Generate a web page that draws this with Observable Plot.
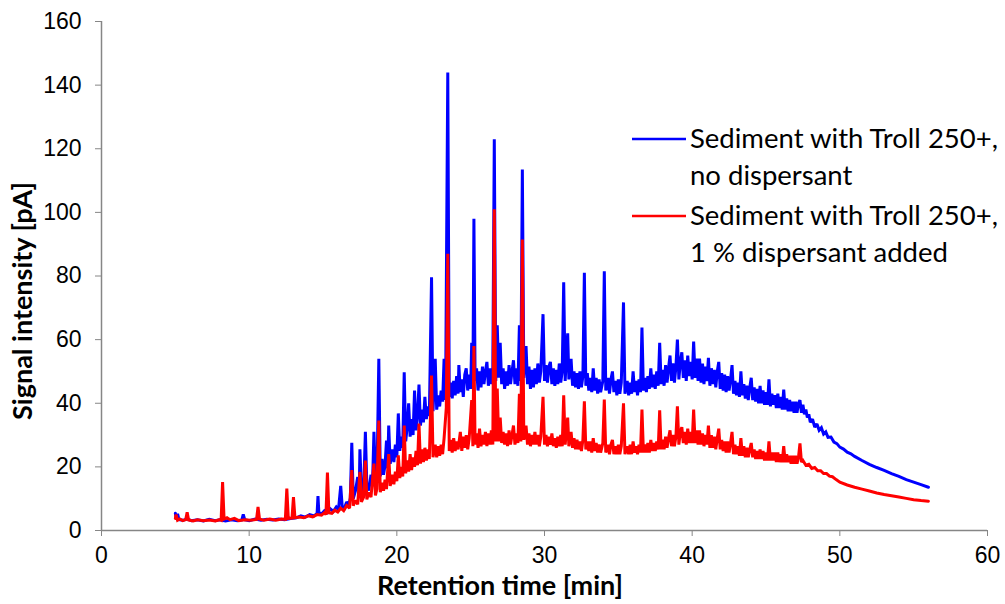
<!DOCTYPE html>
<html>
<head>
<meta charset="utf-8">
<script src="https://cdn.jsdelivr.net/npm/d3@7"></script>
<script src="https://cdn.jsdelivr.net/npm/@observablehq/plot@0.6"></script>
<style>
  html, body { margin: 0; padding: 0; background: #fff; }
  #chart { width: 1005px; height: 604px; }
</style>
</head>
<body>
<div id="chart"></div>
<script>
// GC-FID chromatograms: [retention time (min), signal (pA)]
const noDispersant = [
  [5.0,5.4],[5.05,4.0],[5.15,5.2],[5.25,3.4],[5.5,3.2],[5.8,3.6],[6.1,3.1],[6.5,3.4],[6.9,3.0],[7.3,3.5],
  [7.7,3.1],[8.0,3.4],[8.4,3.0],[8.8,3.4],[9.2,3.1],[9.5,3.3],[9.6,5.1],[9.7,3.4],[10.0,3.1],[10.4,3.6],
  [10.8,3.2],[11.2,3.5],[11.6,3.3],[12.0,3.6],[12.4,3.4],[12.8,3.8],[13.2,4.0],[13.5,4.6],[13.8,4.2],[14.1,5.0],
  [14.4,4.6],[14.6,5.4],[14.66,10.8],[14.72,5.6],[14.9,5.2],[15.1,6.2],[15.3,5.6],[15.5,6.8],[15.7,6.0],[15.9,7.4],
  [16.05,6.6],[16.2,14.0],[16.3,7.6],[16.45,7.0],[16.6,9.0],[16.75,8.0],[16.85,10.2],[16.95,27.6],[17.05,10.0],[17.2,12.5],
  [17.35,16.8],[17.45,11.5],[17.5,25.5],[17.6,13.0],[17.75,11.8],[17.87,31.0],[17.97,14.0],[18.1,12.6],[18.25,17.5],[18.35,14.0],
  [18.45,31.0],[18.55,16.5],[18.65,15.0],[18.78,54.0],[18.88,17.0],[19.0,22.5],[19.1,17.5],[19.2,20.5],[19.3,28.3],[19.38,19.5],
  [19.45,33.0],[19.55,21.0],[19.7,25.5],[19.8,21.5],[19.9,27.0],[20.0,23.0],[20.1,36.8],[20.2,25.0],[20.3,29.5],[20.4,26.0],
  [20.5,49.7],[20.6,28.0],[20.7,32.5],[20.8,40.0],[20.9,29.5],[21.0,35.0],[21.1,30.0],[21.2,44.0],[21.3,31.5],[21.4,36.0],
  [21.5,45.9],[21.6,33.0],[21.7,38.0],[21.8,34.0],[21.9,42.0],[22.0,35.0],[22.1,39.0],[22.2,36.0],[22.35,79.6],[22.45,37.5],
  [22.6,54.0],[22.7,38.0],[22.8,42.5],[22.9,39.0],[23.0,44.0],[23.1,40.5],[23.2,54.0],[23.3,41.0],[23.45,144.0],[23.55,42.0],
  [23.65,46.5],[23.75,41.5],[23.85,47.0],[23.95,42.5],[24.05,48.5],[24.15,43.0],[24.2,52.0],[24.3,43.5],[24.4,47.5],[24.5,42.0],
  [24.6,49.0],[24.7,51.0],[24.8,44.0],[24.9,49.0],[25.0,44.5],[25.07,59.0],[25.15,46.0],[25.22,98.0],[25.3,47.0],[25.4,51.0],
  [25.5,44.0],[25.6,50.0],[25.7,45.0],[25.8,51.5],[25.9,46.0],[26.0,50.0],[26.1,53.0],[26.2,45.5],[26.3,51.0],[26.4,46.0],
  [26.5,50.5],[26.6,123.0],[26.7,47.0],[26.8,64.5],[26.9,48.0],[27.0,59.0],[27.1,46.0],[27.2,51.0],[27.3,44.5],[27.4,50.0],
  [27.5,45.5],[27.6,52.0],[27.7,46.0],[27.8,50.0],[27.9,53.5],[28.0,46.0],[28.1,51.0],[28.2,45.5],[28.3,64.5],[28.4,47.0],
  [28.5,113.5],[28.6,48.0],[28.75,58.0],[28.85,46.0],[28.95,51.5],[29.05,44.5],[29.15,50.5],[29.25,45.0],[29.35,51.0],[29.45,46.0],
  [29.55,52.5],[29.65,46.5],[29.75,50.0],[29.9,68.0],[30.0,47.0],[30.1,52.0],[30.2,46.5],[30.3,51.5],[30.4,53.0],[30.5,46.0],
  [30.6,51.0],[30.7,45.5],[30.8,50.5],[30.9,46.0],[31.0,52.5],[31.1,46.5],[31.2,50.0],[31.3,78.0],[31.4,47.0],[31.57,62.0],
  [31.65,47.5],[31.8,54.0],[31.9,45.5],[32.0,50.0],[32.1,45.0],[32.2,49.5],[32.3,44.5],[32.4,50.0],[32.5,45.0],[32.6,48.5],
  [32.7,81.0],[32.8,45.5],[32.9,49.5],[33.0,44.0],[33.1,48.0],[33.2,43.5],[33.3,51.0],[33.4,44.0],[33.5,48.0],[33.6,43.0],
  [33.7,47.5],[33.8,43.5],[33.95,47.0],[34.05,81.5],[34.15,44.0],[34.3,48.0],[34.4,43.0],[34.5,47.5],[34.6,50.0],[34.7,43.5],
  [34.8,47.0],[34.9,42.5],[35.0,47.5],[35.1,43.0],[35.2,46.5],[35.35,71.7],[35.45,43.0],[35.6,47.0],[35.7,42.5],[35.8,46.5],
  [35.9,43.0],[36.0,50.0],[36.1,43.5],[36.2,47.0],[36.3,42.5],[36.4,47.5],[36.5,43.5],[36.6,63.8],[36.7,44.0],[36.8,48.0],
  [36.9,43.5],[37.0,48.5],[37.1,44.5],[37.2,51.0],[37.3,45.0],[37.4,49.0],[37.5,44.5],[37.6,50.0],[37.7,45.5],[37.8,59.0],
  [37.9,46.0],[38.0,50.5],[38.1,45.5],[38.2,52.0],[38.3,46.5],[38.4,51.0],[38.5,55.0],[38.6,47.0],[38.7,52.5],[38.8,46.5],
  [38.9,51.5],[39.0,60.0],[39.1,47.5],[39.2,53.0],[39.3,56.0],[39.4,48.0],[39.5,53.5],[39.6,47.0],[39.7,55.0],[39.8,48.5],
  [39.9,53.0],[40.0,47.5],[40.1,59.4],[40.2,48.0],[40.3,54.0],[40.4,47.0],[40.5,54.0],[40.6,46.5],[40.7,52.5],[40.8,46.0],
  [40.9,51.5],[41.0,47.0],[41.1,54.3],[41.2,45.5],[41.3,51.0],[41.4,46.0],[41.5,50.5],[41.6,45.0],[41.7,50.0],[41.8,53.0],
  [41.9,44.5],[42.0,49.5],[42.1,44.0],[42.2,49.0],[42.3,43.5],[42.4,48.5],[42.5,44.0],[42.6,47.5],[42.7,52.0],[42.8,43.0],
  [42.9,47.0],[43.0,42.5],[43.1,46.5],[43.2,42.0],[43.3,50.0],[43.4,42.5],[43.5,46.0],[43.6,41.5],[43.7,45.5],[43.8,41.0],
  [43.9,45.0],[44.0,48.0],[44.1,41.0],[44.2,45.0],[44.3,40.5],[44.4,44.5],[44.5,40.0],[44.6,45.5],[44.7,40.0],[44.8,44.0],
  [44.9,39.5],[45.0,43.5],[45.1,39.5],[45.2,47.5],[45.3,39.0],[45.4,43.0],[45.5,39.5],[45.6,42.5],[45.7,38.5],[45.8,43.0],
  [45.9,38.5],[46.0,42.0],[46.1,38.0],[46.2,44.3],[46.3,38.0],[46.4,41.5],[46.5,37.5],[46.6,41.0],[46.7,37.5],[46.8,40.5],
  [46.9,37.0],[47.0,40.5],[47.1,37.0],[47.2,40.0],[47.3,41.0],[47.4,37.0],[47.5,39.5],[47.6,36.5],[47.7,38.0],[47.8,35.5],
  [47.9,36.5],[48.0,34.0],[48.15,35.0],[48.3,32.5],[48.45,33.5],[48.6,31.5],[48.75,32.3],[48.9,30.3],[49.05,31.0],[49.2,29.3],
  [49.4,29.4],[49.6,27.8],[49.8,27.3],[50.0,26.2],[50.25,25.6],[50.5,24.6],[50.75,24.1],[51.0,23.3],[51.5,22.0],[52.0,20.8],
  [52.5,19.8],[53.0,18.9],[53.5,17.9],[54.0,17.0],[54.5,16.0],[55.0,15.2],[55.5,14.4],[56.0,13.6]
];

const withDispersant = [
  [5.0,3.8],[5.05,5.0],[5.15,3.2],[5.3,3.6],[5.5,3.1],[5.7,3.4],[5.8,5.7],[5.9,3.3],[6.2,3.0],[6.5,3.4],
  [6.9,3.1],[7.3,3.3],[7.7,3.0],[8.0,3.4],[8.1,3.2],[8.2,15.2],[8.3,3.6],[8.5,4.0],[8.7,3.4],[9.0,3.8],
  [9.3,3.1],[9.7,3.4],[10.1,3.2],[10.5,3.5],[10.6,7.4],[10.7,3.6],[11.0,3.2],[11.4,3.6],[11.8,3.2],[12.2,3.6],
  [12.45,3.5],[12.55,13.2],[12.65,3.8],[12.9,3.9],[13.0,10.5],[13.1,4.0],[13.4,4.2],[13.7,4.0],[14.0,4.6],[14.3,4.3],
  [14.6,5.0],[14.9,4.8],[15.1,5.6],[15.2,5.0],[15.3,18.2],[15.4,5.6],[15.6,5.4],[15.8,6.4],[16.0,5.8],[16.2,7.0],
  [16.4,6.2],[16.6,7.8],[16.8,7.0],[16.95,19.0],[17.05,7.8],[17.2,9.5],[17.35,8.2],[17.5,18.4],[17.6,9.0],[17.75,10.5],
  [17.87,22.0],[17.97,9.8],[18.1,12.0],[18.25,10.5],[18.45,21.0],[18.55,11.0],[18.65,13.0],[18.78,34.6],[18.88,12.0],[19.0,15.0],
  [19.1,12.5],[19.2,16.0],[19.3,13.0],[19.45,24.0],[19.55,14.0],[19.7,17.5],[19.8,14.5],[19.9,18.5],[20.0,15.5],[20.1,23.6],
  [20.2,16.5],[20.3,20.0],[20.4,17.0],[20.5,33.0],[20.6,18.0],[20.7,22.0],[20.8,18.5],[20.9,24.0],[21.0,19.0],[21.1,23.0],
  [21.2,20.0],[21.3,25.0],[21.4,20.5],[21.5,33.6],[21.6,21.0],[21.7,25.5],[21.8,21.5],[21.9,26.0],[22.0,22.0],[22.1,25.5],
  [22.2,22.5],[22.35,48.7],[22.45,23.0],[22.6,27.0],[22.7,23.0],[22.8,26.5],[22.9,23.5],[23.0,27.0],[23.1,24.0],[23.2,29.0],
  [23.35,38.6],[23.45,87.0],[23.55,25.0],[23.65,28.5],[23.75,24.5],[23.85,29.0],[23.95,25.0],[24.05,28.0],[24.15,25.5],[24.3,31.0],
  [24.4,25.0],[24.5,29.5],[24.6,26.0],[24.7,30.0],[24.8,25.5],[24.9,29.0],[25.07,41.0],[25.15,26.5],[25.22,58.0],[25.3,27.0],
  [25.4,30.5],[25.5,26.0],[25.6,32.0],[25.7,26.5],[25.8,30.0],[25.9,27.0],[26.0,31.0],[26.1,26.5],[26.2,30.5],[26.3,27.0],
  [26.4,31.5],[26.5,27.0],[26.6,101.0],[26.7,28.0],[26.8,44.6],[26.9,28.0],[27.0,35.5],[27.1,27.5],[27.2,31.0],[27.3,27.0],
  [27.4,30.5],[27.5,26.5],[27.6,31.5],[27.7,27.0],[27.8,30.0],[27.9,33.0],[28.0,27.0],[28.1,30.5],[28.2,27.5],[28.3,43.0],
  [28.4,28.0],[28.5,91.5],[28.6,28.5],[28.75,33.0],[28.85,27.0],[28.95,30.5],[29.05,26.5],[29.15,30.0],[29.25,27.0],[29.35,31.0],
  [29.45,27.0],[29.55,30.0],[29.65,26.5],[29.75,29.5],[29.9,42.0],[30.0,27.0],[30.1,30.0],[30.2,26.5],[30.3,29.5],[30.4,27.0],
  [30.5,30.5],[30.6,26.5],[30.7,29.0],[30.8,26.0],[30.9,29.5],[31.0,26.5],[31.1,30.0],[31.2,26.5],[31.3,42.5],[31.4,27.0],
  [31.57,35.5],[31.65,26.5],[31.8,31.0],[31.9,26.0],[32.0,29.0],[32.1,25.5],[32.2,28.5],[32.3,25.5],[32.4,28.0],[32.5,25.0],
  [32.6,28.5],[32.7,40.6],[32.8,25.5],[32.9,28.0],[33.0,25.0],[33.1,28.0],[33.2,24.5],[33.3,29.0],[33.4,25.0],[33.5,27.5],
  [33.6,24.5],[33.7,27.0],[33.8,24.5],[33.95,27.5],[34.05,41.2],[34.15,24.5],[34.3,27.0],[34.4,24.0],[34.5,27.0],[34.6,28.5],
  [34.7,24.0],[34.8,26.5],[34.9,24.0],[35.0,27.0],[35.1,24.0],[35.2,26.5],[35.35,40.0],[35.45,24.0],[35.6,26.5],[35.7,24.0],
  [35.8,27.0],[35.9,24.0],[36.0,28.0],[36.1,24.5],[36.2,26.5],[36.3,24.0],[36.4,27.0],[36.5,24.5],[36.6,38.0],[36.7,24.5],
  [36.8,27.0],[36.9,24.5],[37.0,27.5],[37.1,24.5],[37.2,28.5],[37.3,25.0],[37.4,27.5],[37.5,25.0],[37.6,28.0],[37.7,25.5],
  [37.8,37.8],[37.9,25.5],[38.0,28.5],[38.1,25.5],[38.2,29.5],[38.3,26.0],[38.4,29.0],[38.5,31.5],[38.6,26.5],[38.7,30.0],
  [38.8,26.5],[38.9,29.5],[39.0,39.0],[39.1,27.0],[39.2,31.0],[39.3,32.5],[39.4,27.5],[39.5,31.0],[39.6,27.0],[39.7,32.0],
  [39.8,27.5],[39.9,31.0],[40.0,27.5],[40.1,38.0],[40.2,27.5],[40.3,31.5],[40.4,27.0],[40.5,31.5],[40.6,27.0],[40.7,30.5],
  [40.8,26.5],[40.9,30.0],[41.0,27.0],[41.1,33.0],[41.2,26.0],[41.3,30.0],[41.4,26.0],[41.5,29.5],[41.6,25.5],[41.7,29.0],
  [41.8,32.0],[41.9,25.5],[42.0,28.5],[42.1,25.0],[42.2,28.0],[42.3,24.5],[42.4,28.0],[42.5,24.5],[42.6,27.5],[42.7,31.0],
  [42.8,24.0],[42.9,27.0],[43.0,24.0],[43.1,26.5],[43.2,23.5],[43.3,29.0],[43.4,23.5],[43.5,26.5],[43.6,23.0],[43.7,26.0],
  [43.8,23.0],[43.9,25.5],[44.0,27.5],[44.1,23.0],[44.2,25.5],[44.3,22.5],[44.4,25.0],[44.5,22.5],[44.6,25.5],[44.7,22.5],
  [44.8,25.0],[44.9,22.0],[45.0,24.5],[45.1,22.0],[45.2,28.0],[45.3,22.0],[45.4,24.5],[45.5,22.0],[45.6,24.5],[45.7,21.5],
  [45.8,24.5],[45.9,21.5],[46.0,24.0],[46.1,21.5],[46.2,26.5],[46.3,21.5],[46.4,24.0],[46.5,21.5],[46.6,23.5],[46.7,21.0],
  [46.8,23.5],[46.9,21.0],[47.0,23.5],[47.1,21.0],[47.2,23.0],[47.3,27.4],[47.4,21.5],[47.5,22.0],[47.7,20.5],[47.9,20.8],
  [48.1,19.5],[48.3,19.8],[48.5,18.8],[48.7,18.8],[48.9,17.9],[49.1,17.9],[49.3,17.1],[49.5,16.9],[49.75,16.0],[50.0,15.2],
  [50.5,14.3],[51.0,13.6],[51.5,13.0],[52.0,12.4],[52.5,11.8],[53.0,11.3],[53.5,10.9],[54.0,10.5],[54.5,10.1],[55.0,9.7],
  [55.5,9.4],[56.0,9.2]
];

const xTicks = [0, 10, 20, 30, 40, 50, 60];
const yTicks = [0, 20, 40, 60, 80, 100, 120, 140, 160];
const xTitle = "Retention time [min]";
const yTitle = "Signal intensity [pA]";
const seriesLabels = [
  ["Sediment with Troll 250+,", "no dispersant"],
  ["Sediment with Troll 250+,", "1 % dispersant added"]
];
const seriesColors = ["#0000ff", "#ff0000"];

const axisGrey = "#868686";
const titleFont = "Lato, 'Open Sans', sans-serif";
const lineStyle = { strokeWidth: 3, strokeLinejoin: "miter", strokeMiterlimit: 2 };

const chart = Plot.plot({
  width: 1005,
  height: 604,
  marginLeft: 101,
  marginRight: 18,
  marginTop: 21,
  marginBottom: 74,
  style: { fontFamily: "'Liberation Sans', Arial, sans-serif", fontSize: "23px", color: "#000", background: "#fff" },
  x: { domain: [0, 60] },
  y: { domain: [0, 160] },
  marks: [
    Plot.line(noDispersant, { x: d => d[0], y: d => d[1], stroke: seriesColors[0], ...lineStyle }),
    Plot.line(withDispersant, { x: d => d[0], y: d => d[1], stroke: seriesColors[1], ...lineStyle }),
    Plot.ruleX([0], { stroke: axisGrey, strokeWidth: 1.5 }),
    Plot.ruleY([0], { stroke: axisGrey, strokeWidth: 1.5 }),
    Plot.axisX(xTicks, { tickSize: 6, tickPadding: 10, stroke: axisGrey, fill: "#000", label: null, tickFormat: d => String(d) }),
    Plot.axisY(yTicks, { tickSize: 6, tickPadding: 14, stroke: axisGrey, fill: "#000", label: null, tickFormat: d => String(d) })
  ]
});

const svg = d3.select(chart);

// Axis titles
svg.append("text")
  .attr("x", 500).attr("y", 595)
  .attr("text-anchor", "middle")
  .attr("font-family", titleFont).attr("font-weight", "bold").attr("font-size", 27)
  .attr("fill", "#000")
  .text(xTitle);
svg.append("text")
  .attr("transform", "translate(32,301) rotate(-90)")
  .attr("text-anchor", "middle")
  .attr("font-family", titleFont).attr("font-weight", "bold").attr("font-size", 27)
  .attr("fill", "#000")
  .text(yTitle);

// Legend drawn inside the plot frame, upper right
const legend = svg.append("g")
  .attr("font-family", titleFont).attr("font-size", 27.5)
  .attr("text-anchor", "start").attr("fill", "#000");
seriesLabels.forEach((lines, i) => {
  const top = 139 + i * 77;
  legend.append("line")
    .attr("x1", 632).attr("x2", 686)
    .attr("y1", top).attr("y2", top)
    .attr("stroke", seriesColors[i]).attr("stroke-width", 2.6);
  lines.forEach((txt, j) => {
    legend.append("text")
      .attr("x", 690)
      .attr("y", top + 9 + j * 37)
      .text(txt);
  });
});

document.getElementById("chart").appendChild(chart);
</script>
</body>
</html>
